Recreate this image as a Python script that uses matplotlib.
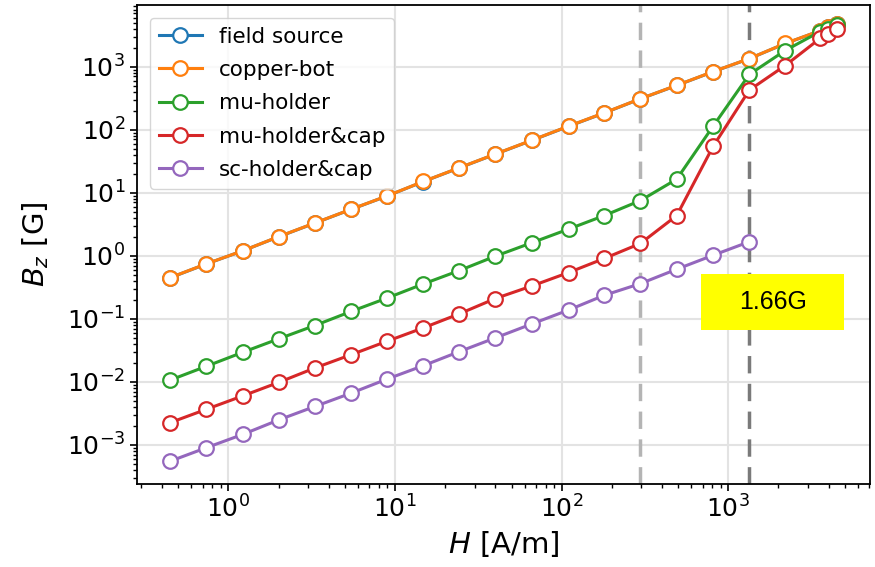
import matplotlib
matplotlib.use("Agg")
import matplotlib.pyplot as plt
from matplotlib.patches import Rectangle

# applied field H [A/m]
H = [0.448, 0.738, 1.22, 2.0, 3.3, 5.45, 8.97, 14.8, 24.3, 40.0, 66.2,
     110, 180, 297, 490, 811, 1337, 2193, 3553, 3990, 4470]

# measured Bz [G]
field_source = [0.449, 0.743, 1.20, 2.0, 3.30, 5.45, 8.88, 15.05, 24.8, 40.9,
                67.7, 113.2, 184, 309, 503, 831, 1338, 2322, 3705, 4180, 4780]
copper_bot = [0.451, 0.746, 1.20, 2.01, 3.31, 5.47, 8.91, 15.1, 24.9, 41.1,
              68.0, 113.7, 185, 310, 505, 834, 1343, 2330, 3715, 4190, 4790]
mu_holder = [0.0107, 0.0177, 0.0295, 0.0481, 0.0783, 0.131, 0.214, 0.358,
             0.583, 0.986, 1.61, 2.65, 4.34, 7.52, 16.4, 114, 753, 1800,
             3600, 4000, 4550]
mu_holder_cap = [0.00226, 0.00368, 0.0060, 0.0098, 0.0166, 0.027, 0.0442,
                 0.072, 0.120, 0.21, 0.332, 0.542, 0.906, 1.57, 4.34, 54.6,
                 425, 1040, 2800, 3240, 3890]
sc_holder_cap = [0.000553, 0.000904, 0.00147, 0.00249, 0.00407, 0.00663,
                 0.0111, 0.0181, 0.0302, 0.0499, 0.083, 0.138, 0.236, 0.362,
                 0.612, 1.02, 1.67]

series = [("field source", field_source, "tab:blue"),
          ("copper-bot", copper_bot, "tab:orange"),
          ("mu-holder", mu_holder, "tab:green"),
          ("mu-holder&cap", mu_holder_cap, "tab:red"),
          ("sc-holder&cap", sc_holder_cap, "tab:purple")]

# dashed markers on the H axis
h_light = 297
h_dark = 1337
note = "1.66G"

fig = plt.figure(figsize=(8.75, 5.67), dpi=100)
ax = fig.add_axes([0.1566, 0.1464, 0.8377, 0.8448])

for name, vals, col in series:
    ax.plot(H[:len(vals)], vals, "-o", color=col, lw=2.2, ms=10.5,
            mfc="white", mew=1.6, label=name)

ax.axvline(h_light, color="#b4b4b4", ls="--", lw=2.5, dashes=(5, 3), zorder=1)
ax.axvline(h_dark, color="#7a7a7a", ls="--", lw=2.5, dashes=(5, 3), zorder=1)

ax.set_xscale("log")
ax.set_yscale("log")
ax.set_ylim(2.4e-4, 9.5e3)
ax.grid(True, which="major", color="#e3e3e3", lw=1.5)
ax.set_axisbelow(True)
ax.tick_params(which="major", labelsize=18, length=5, width=1.2)
ax.tick_params(which="minor", length=3, width=1)
for s in ax.spines.values():
    s.set_linewidth(1.3)

ax.set_xlabel("$H$ [A/m]", fontsize=21, labelpad=4)
ax.set_ylabel("$B_z$ [G]", fontsize=21)
ax.yaxis.set_label_coords(-0.118, 0.5)

ax.legend(loc="upper left", fontsize=15.5, handlelength=2.0,
          borderaxespad=0.6, labelspacing=0.62)

# yellow label box
fig.patches.append(Rectangle((0.801, 0.418), 0.1634, 0.0988,
                             transform=fig.transFigure, facecolor="#ffff00",
                             edgecolor="none", zorder=5))
fig.text(0.883, 0.467, note, fontsize=18, family="Liberation Sans",
         ha="center", va="center", zorder=6)

fig.savefig("out.png", dpi=100)
